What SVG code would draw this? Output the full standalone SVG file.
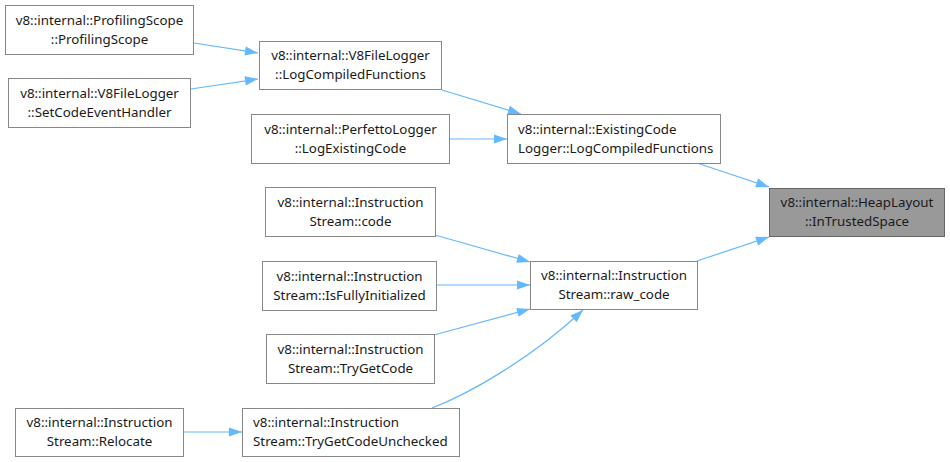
<svg xmlns="http://www.w3.org/2000/svg" width="950" height="462" viewBox="0 0 950 462">
<style>
.n rect{fill:#ffffff;stroke:#888888;stroke-width:1}
.n.h rect{fill:#999999;stroke:#666666}
.n text{font-family:"Noto Sans",sans-serif;font-size:13.33px;fill:#1a1a1a}
.c{text-anchor:middle}
.e path{fill:none;stroke:#63b8ff;stroke-width:1.2;marker-end:url(#a)}
</style>
<defs>
<marker id="a" markerUnits="userSpaceOnUse" markerWidth="14" markerHeight="10" viewBox="0 0 13 10" refX="13" refY="5" orient="auto">
<path d="M0,0.4 L13,5 L0,9.6 z" fill="#63b8ff"/>
</marker>
</defs>
<rect width="950" height="462" fill="#ffffff"/>
<g id="edges" class="e">
<path d="M194,43 L258,53"/>
<path d="M191,89 L258,79"/>
<path d="M442,90 L521,114"/>
<path d="M449,139 L507,139"/>
<path d="M697,163 L769,187"/>
<path d="M697,261 L769,237"/>
<path d="M435,235 L530,262"/>
<path d="M436,285 L530,285"/>
<path d="M434,335 L530,309"/>
<path d="M432,408 C466,395 530,360 583,310"/>
<path d="M183,432 L242,432"/>
</g>
<g id="n1" class="n"><rect x="5.5" y="5.5" width="188" height="49"/><text class="c" x="99.5" y="24.5">v8::internal::ProfilingScope</text><text class="c" x="99.5" y="43.5">::ProfilingScope</text></g>
<g id="n2" class="n"><rect x="8.5" y="78.5" width="182" height="49"/><text class="c" x="99.5" y="97.5">v8::internal::V8FileLogger</text><text class="c" x="99.5" y="116.5">::SetCodeEventHandler</text></g>
<g id="n3" class="n"><rect x="259.5" y="41.5" width="182" height="48"/><text class="c" x="350.5" y="60">v8::internal::V8FileLogger</text><text class="c" x="350.5" y="79">::LogCompiledFunctions</text></g>
<g id="n4" class="n"><rect x="251.5" y="114.5" width="198" height="49"/><text class="c" x="350.5" y="133.5">v8::internal::PerfettoLogger</text><text class="c" x="350.5" y="152.5">::LogExistingCode</text></g>
<g id="n5" class="n"><rect x="507.5" y="114.5" width="213" height="49"/><text x="518" y="133.5">v8::internal::ExistingCode</text><text x="518" y="152.5">Logger::LogCompiledFunctions</text></g>
<g id="n6" class="n h"><rect x="769.5" y="188.5" width="175" height="48"/><text class="c" x="857" y="207">v8::internal::HeapLayout</text><text class="c" x="857" y="226">::InTrustedSpace</text></g>
<g id="n7" class="n"><rect x="265.5" y="187.5" width="170" height="49"/><text class="c" x="350.5" y="206.5">v8::internal::Instruction</text><text class="c" x="350.5" y="225.5">Stream::code</text></g>
<g id="n8" class="n"><rect x="262.5" y="261.5" width="174" height="49"/><text class="c" x="349.5" y="280.5">v8::internal::Instruction</text><text class="c" x="349.5" y="299.5">Stream::IsFullyInitialized</text></g>
<g id="n9" class="n"><rect x="530.5" y="261.5" width="167" height="48"/><text class="c" x="614" y="280">v8::internal::Instruction</text><text class="c" x="614" y="299">Stream::raw_code</text></g>
<g id="n10" class="n"><rect x="266.5" y="334.5" width="168" height="49"/><text class="c" x="350.5" y="353.5">v8::internal::Instruction</text><text class="c" x="350.5" y="372.5">Stream::TryGetCode</text></g>
<g id="n11" class="n"><rect x="15.5" y="408.5" width="168" height="48"/><text class="c" x="99.5" y="427">v8::internal::Instruction</text><text class="c" x="99.5" y="446">Stream::Relocate</text></g>
<g id="n12" class="n"><rect x="242.5" y="408.5" width="217" height="48"/><text x="253" y="427">v8::internal::Instruction</text><text x="253" y="446">Stream::TryGetCodeUnchecked</text></g>
</svg>
